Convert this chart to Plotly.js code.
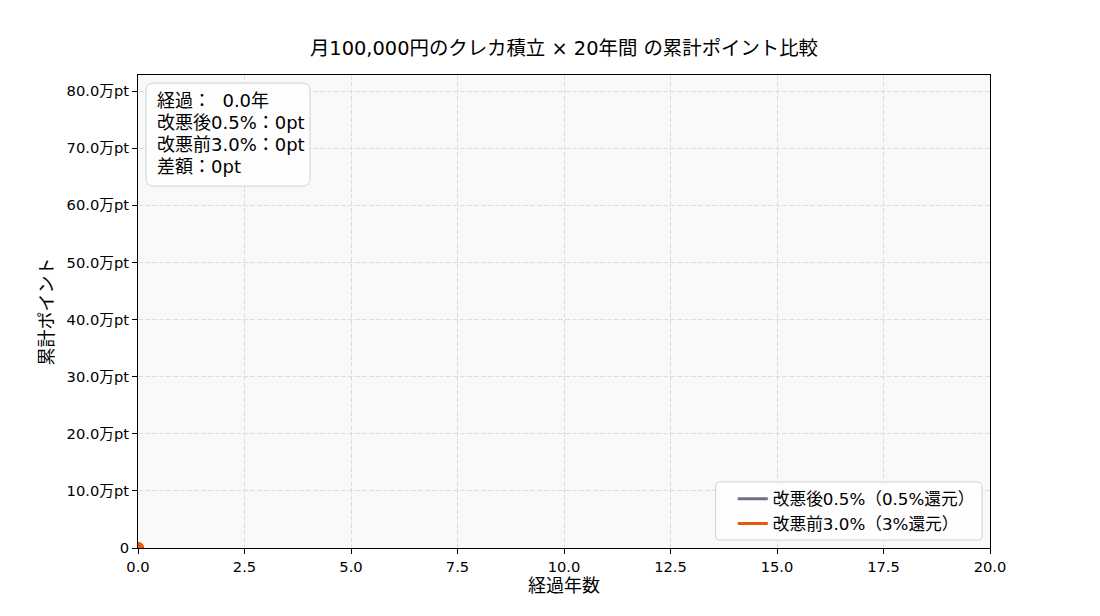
<!DOCTYPE html>
<html><head><meta charset="utf-8">
<script src="https://cdn.plot.ly/plotly-3.0.1.min.js"></script>
<style>html,body{margin:0;padding:0;background:#fff}</style>
</head><body><div id="chart" style="width:1100px;height:616px"></div>
<script>
const years = [0];
const afterPts = [0];   // 改悪後0.5%
const beforePts = [0];  // 改悪前3.0%
const seriesNames = ['改悪後0.5%（0.5%還元）', '改悪前3.0%（3%還元）'];
const yTickVals = [0,100000,200000,300000,400000,500000,600000,700000,800000];
const yTickText = ['0','10.0万pt','20.0万pt','30.0万pt','40.0万pt','50.0万pt','60.0万pt','70.0万pt','80.0万pt'];
const xTickVals = [0,2.5,5,7.5,10,12.5,15,17.5,20];
const xTickText = ['0.0','2.5','5.0','7.5','10.0','12.5','15.0','17.5','20.0'];
const infoLines = ['経過：  0.0年','改悪後0.5%：0pt','改悪前3.0%：0pt','差額：0pt'];

const gray = '#6b7280', orange = '#ea580c';
const FONT = 'DejaVu Sans, Noto Sans CJK JP, sans-serif';

function rr(x0,y0,x1,y1,rx,ry){
  return `M${x0+rx},${y0} L${x1-rx},${y0} Q${x1},${y0} ${x1},${y0+ry} L${x1},${y1-ry} Q${x1},${y1} ${x1-rx},${y1} L${x0+rx},${y1} Q${x0},${y1} ${x0},${y1-ry} L${x0},${y0+ry} Q${x0},${y0} ${x0+rx},${y0} Z`;
}

const traces = [
  {x: years, y: afterPts, mode:'lines', name: seriesNames[0], line:{color:gray,width:3}},
  {x: years, y: beforePts, mode:'lines', name: seriesNames[1], line:{color:orange,width:3}},
  {x: [years[years.length-1]], y:[afterPts[afterPts.length-1]], mode:'markers', showlegend:false, marker:{color:gray,size:12}},
  {x: [years[years.length-1]], y:[beforePts[beforePts.length-1]], mode:'markers', showlegend:false, marker:{color:orange,size:12}}
];

const lineY = [0.947, 0.9006, 0.854, 0.8055];
const infoAnn = infoLines.map((t,i)=>({xref:'paper', yref:'paper', x:0.0195, y:lineY[i], xanchor:'left', yanchor:'middle',
  align:'left', showarrow:false, text:t, font:{size:18, family:FONT}}));

const layout = {
  width:1100, height:616,
  margin:{l:138, r:110, t:75, b:68},
  paper_bgcolor:'#fff', plot_bgcolor:'#f9f9f9',
  font:{family:FONT, color:'#000', size:14},
  title:{text:'月100,000円のクレカ積立 × 20年間 の累計ポイント比較', x:0.5127, xanchor:'center', y:0.922, yanchor:'middle', font:{size:19.4, family:FONT}},
  xaxis:{range:[0,20], tickvals:xTickVals, ticktext:xTickText, ticks:'outside', ticklen:5, tickcolor:'#000',
    showline:true, linecolor:'#000', linewidth:1, mirror:true, zeroline:false,
    showgrid:true, gridcolor:'#dddddd', griddash:'5px,2px', gridwidth:1,
    tickfont:{size:14.7}, title:{text:'経過年数', font:{size:18}, standoff:5}},
  yaxis:{range:[0,828000], tickvals:yTickVals, ticktext:yTickText, ticks:'outside', ticklen:5, tickcolor:'#000',
    showline:true, linecolor:'#000', linewidth:1, mirror:true, zeroline:false,
    showgrid:true, gridcolor:'#dddddd', griddash:'5px,2px', gridwidth:1,
    tickfont:{size:14.7}, title:{text:'累計ポイント', font:{size:18}, standoff:8}},
  legend:{x:0.988, xanchor:'right', y:0.014, yanchor:'bottom', bgcolor:'rgba(0,0,0,0)', borderwidth:0,
    font:{size:16.7, family:FONT}, itemwidth:30, tracegroupgap:0},
  shapes:[
    {type:'path', xref:'paper', yref:'paper', path: rr(0.0094,0.765,0.2019,0.983,0.0094,0.0169),
      fillcolor:'rgba(255,255,255,0.85)', line:{color:'#d0d0d0', width:1}, layer:'above'},
    {type:'path', xref:'paper', yref:'paper', path: rr(0.678,0.0169,0.9906,0.1395,0.005,0.009),
      fillcolor:'rgba(255,255,255,0.85)', line:{color:'#d0d0d0', width:1}, layer:'above'}
  ],
  annotations: infoAnn
};
Plotly.newPlot('chart', traces, layout, {displayModeBar:false});
</script></body></html>
